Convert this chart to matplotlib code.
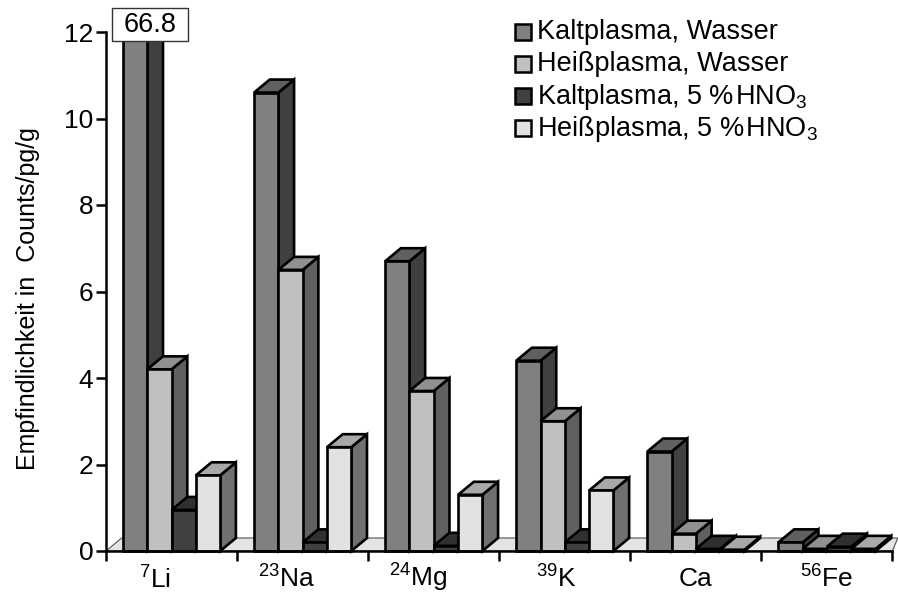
import matplotlib
matplotlib.use("Agg")
import matplotlib.pyplot as plt
from matplotlib.patches import Polygon, Rectangle
from matplotlib.ticker import FixedLocator

plt.rcParams['font.family'] = ['Liberation Sans', 'DejaVu Sans']
plt.rcParams['mathtext.fontset'] = 'custom'
plt.rcParams['mathtext.rm'] = 'Liberation Sans'
plt.rcParams['mathtext.default'] = 'regular'

categories = [r'$^{7}$Li', r'$^{23}$Na', r'$^{24}$Mg', r'$^{39}$K', 'Ca', r'$^{56}$Fe']
series = ['Kaltplasma, Wasser', 'Heißplasma, Wasser',
          'Kaltplasma, 5 %\u200aHNO$_{3}$', 'Heißplasma, 5 %\u200aHNO$_{3}$']
kalt_wasser = [66.8, 10.6, 6.7, 4.4, 2.3, 0.2]
heiss_wasser = [4.2, 6.5, 3.7, 3.0, 0.4, 0.05]
kalt_hno3 = [0.95, 0.2, 0.12, 0.2, 0.05, 0.1]
heiss_hno3 = [1.75, 2.4, 1.3, 1.4, 0.03, 0.05]
values = [kalt_wasser, heiss_wasser, kalt_hno3, heiss_hno3]
y_ticks = [0, 2, 4, 6, 8, 10, 12]
y_limit = 12
broken_label = '66.8'

front = ['#808080', '#c0c0c0', '#404040', '#e2e2e2']
top = ['#606060', '#909090', '#303030', '#a8a8a8']
side = ['#404040', '#606060', '#202020', '#707070']
label_shift_px = [-17, -16, -16, -8, 0, 0]
label_drop_px = [38, 37, 35.5, 37, 35, 37]

W, H = 898, 594
ax_l, ax_r, ax_b, ax_t = 106, 892.5, 551, 32
PT = 72 / 100
fig = plt.figure(figsize=(W / 100, H / 100), dpi=100)
ax = fig.add_axes([ax_l / W, 1 - ax_b / H, (ax_r - ax_l) / W, (ax_b - ax_t) / H])
ax.set_xlim(0, len(categories))
ax.set_ylim(0, y_limit)
ax.patch.set_visible(False)

px_x = len(categories) / (ax_r - ax_l)
px_y = y_limit / (ax_b - ax_t)
dx = 15.7 * px_x
dy = 13.0 * px_y
bw = 24.3 * px_x
margin = 17 * px_x
lw = 1.9
kw = dict(edgecolor='black', linewidth=lw, joinstyle='miter', clip_on=False)

# floor
ax.add_patch(Polygon([(0, 0), (dx, dy), (len(categories) + 0.04, dy), (len(categories), 0)],
                     closed=True, facecolor='#e4e4e4', edgecolor='#555555',
                     linewidth=0.8, clip_on=False, zorder=1))

z = 2
for c in range(len(categories)):
    for s in range(len(series)):
        v = min(values[s][c], y_limit)
        x0 = c + margin + s * bw
        x1 = x0 + bw
        ax.add_patch(Polygon([(x1, 0), (x1 + dx, dy), (x1 + dx, v + dy), (x1, v)],
                             closed=True, facecolor=side[s], zorder=z, **kw))
        ax.add_patch(Polygon([(x0, v), (x0 + dx, v + dy), (x1 + dx, v + dy), (x1, v)],
                             closed=True, facecolor=top[s], zorder=z, **kw))
        ax.add_patch(Rectangle((x0, 0), bw, v, facecolor=front[s], zorder=z, **kw))
        z += 1

# broken-bar value box
bx0, bx1 = (112 - ax_l) * px_x, (188 - ax_l) * px_x
by0, by1 = (ax_b - 41) * px_y, (ax_b - 8) * px_y
ax.add_patch(Rectangle((bx0, by0), bx1 - bx0, by1 - by0, facecolor='white',
                       edgecolor='#333333', linewidth=1.0, clip_on=False, zorder=z))
ax.text((bx0 + bx1) / 2, (by0 + by1) / 2 - 0.02, broken_label, ha='center', va='center',
        fontsize=19.5, zorder=z + 1, clip_on=False)

# axes
for sp in ('top', 'right'):
    ax.spines[sp].set_visible(False)
for sp in ('left', 'bottom'):
    ax.spines[sp].set_linewidth(1.8)
    ax.spines[sp].set_zorder(z + 2)
ax.xaxis.set_major_locator(FixedLocator(range(len(categories) + 1)))
ax.set_xticklabels([])
ax.tick_params(axis='x', which='major', length=7, width=1.8, direction='out', zorder=z + 2)
for c, name in enumerate(categories):
    ax.annotate(name, xy=(c + 0.5, 0), xycoords='data',
                xytext=(label_shift_px[c] * PT, -label_drop_px[c] * PT), textcoords='offset points',
                ha='center', va='baseline', fontsize=19, annotation_clip=False)
ax.set_yticks(y_ticks)
ax.tick_params(axis='y', length=7.2, width=1.8, direction='out', labelsize=19, pad=2)
fig.text(28 / W, 1 - 299 / H, 'Empfindlichkeit in  Counts/pg/g', rotation=90,
         ha='center', va='center', fontsize=18)

# legend
baselines = [39, 71, 104, 136]
centers = [32, 64, 96, 128]
for s, (b, y) in enumerate(zip(baselines, centers)):
    fig.patches.append(Rectangle((514.5 / W, 1 - (y + 8) / H), 16 / W, 16 / H,
                                 transform=fig.transFigure, facecolor=front[s],
                                 edgecolor='black', linewidth=1.8))
    fig.text(537 / W, 1 - b / H, series[s], ha='left', va='baseline', fontsize=19.5)

fig.savefig('out.png', dpi=100)
